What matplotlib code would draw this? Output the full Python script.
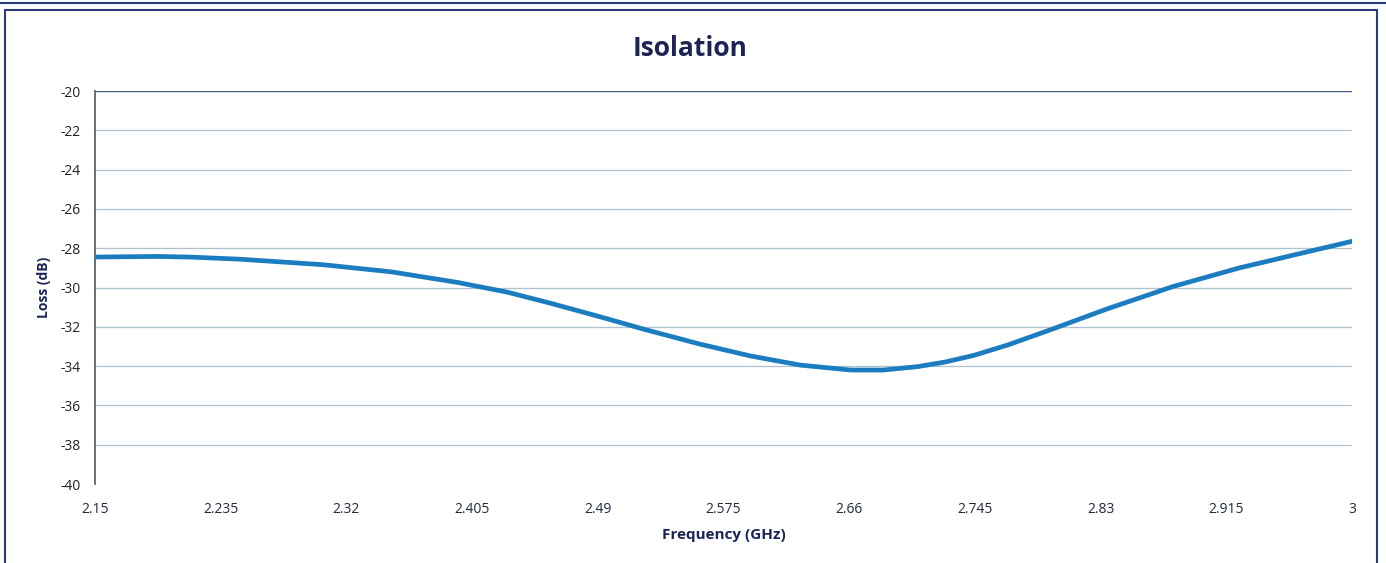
import matplotlib.pyplot as plt
from matplotlib.patches import Rectangle

# values
freq_ghz = [2.15, 2.192, 2.214, 2.248, 2.304, 2.350, 2.395, 2.429, 2.458, 2.492,
            2.521, 2.559, 2.593, 2.627, 2.661, 2.683, 2.706, 2.725, 2.744, 2.767,
            2.798, 2.834, 2.879, 2.924, 2.970, 3.0]
loss_db = [-28.45, -28.42, -28.45, -28.56, -28.84, -29.2, -29.74, -30.24, -30.8, -31.5,
           -32.12, -32.88, -33.48, -33.95, -34.2, -34.2, -34.03, -33.79, -33.46, -32.93,
           -32.1, -31.1, -29.95, -29.0, -28.18, -27.65]

x_ticks = [2.15, 2.235, 2.32, 2.405, 2.49, 2.575, 2.66, 2.745, 2.83, 2.915, 3.0]
x_labels = ["2.15", "2.235", "2.32", "2.405", "2.49", "2.575", "2.66", "2.745", "2.83", "2.915", "3"]
y_ticks = list(range(-40, -19, 2))

navy = "#1c2456"
plt.rcParams["font.family"] = ["Open Sans", "DejaVu Sans"]

fig = plt.figure(figsize=(13.86, 5.63), dpi=100)
ax = fig.add_axes([95 / 1386, 1 - 484 / 563, (1352 - 95) / 1386, (484 - 91) / 563])

ax.plot(freq_ghz, loss_db, color="#1b7dc0", lw=3.4, solid_capstyle="round",
        solid_joinstyle="round", zorder=3)

ax.set_xlim(2.15, 3.0)
ax.set_ylim(-40, -20)
ax.set_yticks(y_ticks)
ax.set_yticklabels([str(v) for v in y_ticks], fontsize=10, color="#222")
ax.set_xticks(x_ticks)
ax.set_xticklabels(x_labels, fontsize=10, color="#222a40")
ax.tick_params(length=0, pad=10)
ax.tick_params(axis="x", pad=13)
for v in y_ticks[1:-1]:
    ax.axhline(v, color="#aec3cf", lw=0.9, zorder=1)
ax.axhline(-20, color="#4b5a78", lw=1.0, zorder=1)
for s in ["top", "right", "bottom"]:
    ax.spines[s].set_visible(False)
ax.spines["left"].set_color("#555")
ax.spines["left"].set_linewidth(1.2)

ax.set_xlabel("Frequency (GHz)", fontsize=11, fontweight="bold", color=navy, labelpad=8)
ax.set_ylabel("Loss (dB)", fontsize=10, fontweight="bold", color=navy, labelpad=7)
fig.text(690 / 1386, 1 - 48 / 563, "Isolation", ha="center", va="center",
         fontsize=19, fontweight="bold", color=navy)

# chart frame borders
fig.patches.append(Rectangle((5 / 1386, -0.02), 1372 / 1386, 1 - 10 / 563 + 0.02,
                             transform=fig.transFigure, fill=False, ec="#2a3d7a", lw=1.5))
fig.add_artist(plt.Line2D([0, 1], [1 - 3 / 563, 1 - 3 / 563], transform=fig.transFigure,
                          color="#2a3d7a", lw=1.5))

fig.savefig("out.png", dpi=100)
